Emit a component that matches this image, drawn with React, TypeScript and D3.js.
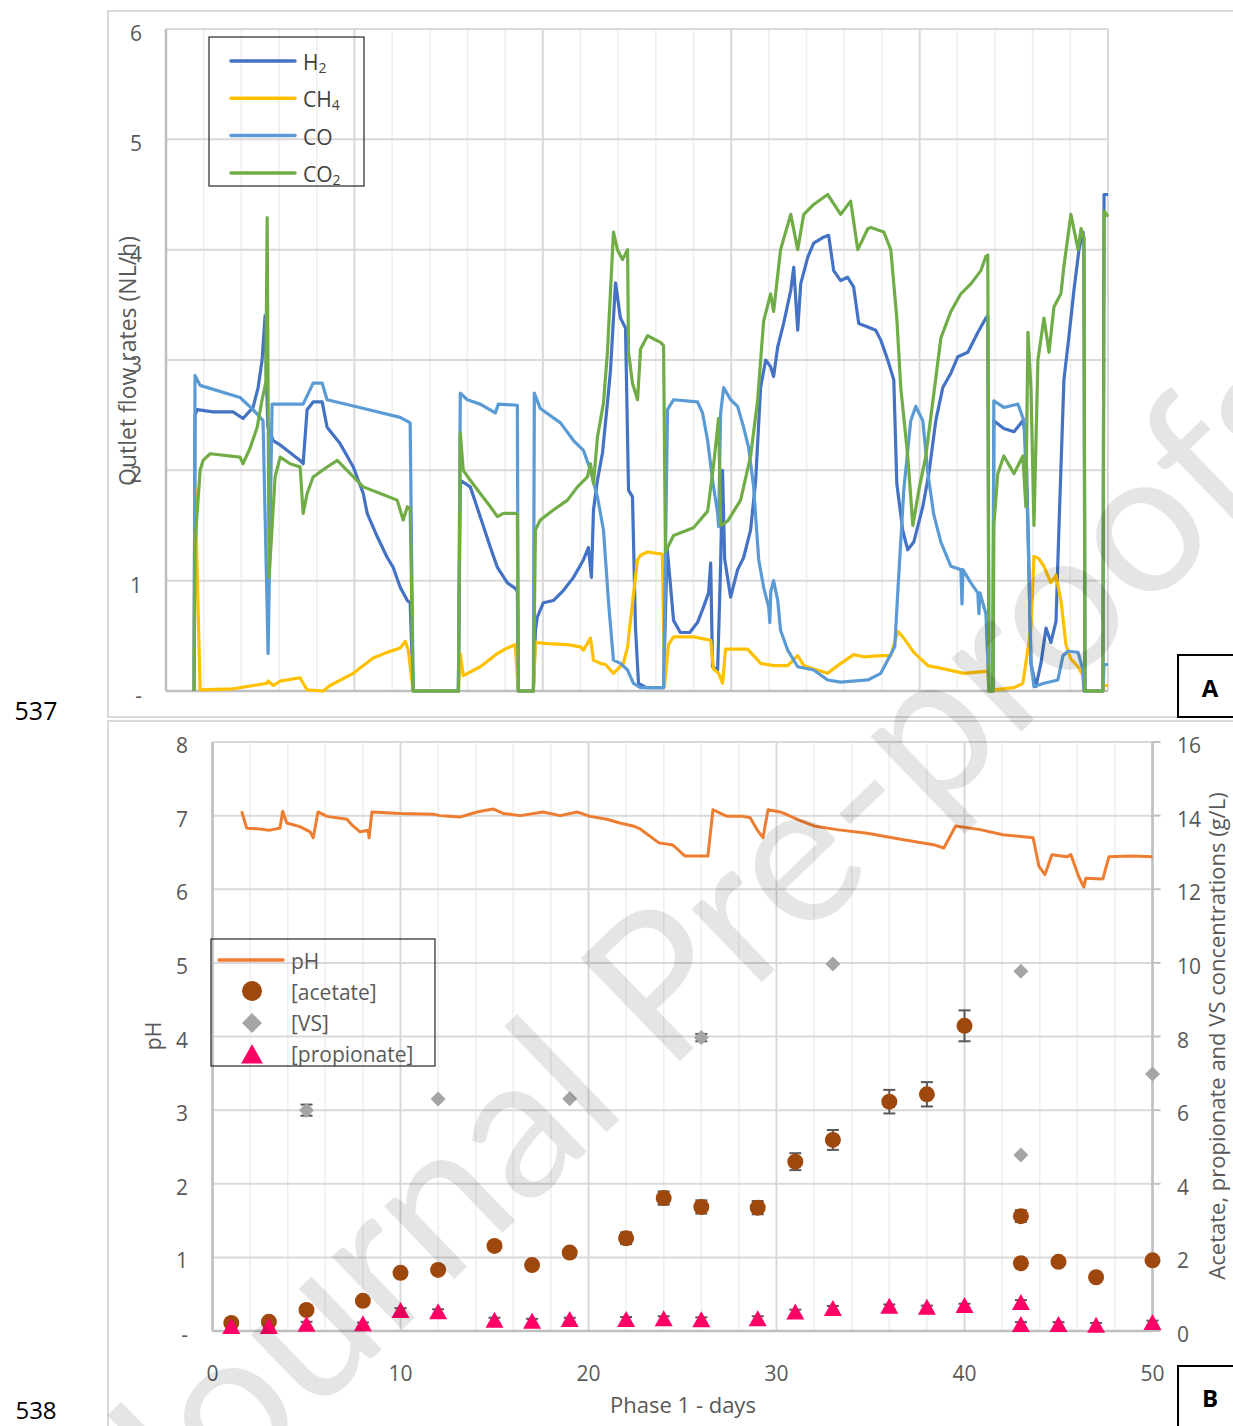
import React from 'react';
import * as d3 from 'd3';

type Pt = [number, number];

// ---------- Panel A : outlet flow rates (NL/h) vs day ----------
const h2Data: Pt[] = [[1.49,0],[1.54,2.5],[1.65,2.55],[2.5,2.53],[3.56,2.53],[4.09,2.47],[4.62,2.57],[4.89,2.75],[5.1,3.0],[5.26,3.4],[5.4,2.4],[5.69,2.27],[6.06,2.23],[7.12,2.09],[7.28,2.06],[7.49,2.55],[7.81,2.62],[8.29,2.62],[8.55,2.39],[9.25,2.24],[9.94,2.03],[10.47,1.79],[10.68,1.61],[11.21,1.4],[11.74,1.21],[12.06,1.12],[12.43,0.94],[12.81,0.82],[12.96,0.8],[13.12,0],[15.52,0],[15.62,1.91],[16.15,1.85],[16.68,1.58],[17.22,1.3],[17.59,1.12],[18.12,0.98],[18.54,0.93],[18.65,0.9],[18.7,0],[19.5,0],[19.61,0.55],[19.71,0.67],[20.03,0.8],[20.56,0.82],[21.09,0.91],[21.63,1.03],[22.16,1.19],[22.42,1.3],[22.58,1.03],[22.69,1.64],[22.9,1.91],[23.17,2.16],[23.43,2.61],[23.59,2.9],[23.86,3.7],[24.12,3.38],[24.39,3.29],[24.55,1.82],[24.76,1.76],[24.92,0.57],[25.08,0.07],[25.5,0.03],[26.41,0.03],[26.6,1.3],[26.94,0.64],[27.3,0.53],[27.8,0.53],[28.21,0.62],[28.53,0.76],[28.8,0.89],[28.91,1.16],[29.01,0.22],[29.28,0.19],[29.44,1.16],[29.54,2.0],[29.65,1.2],[29.97,0.85],[30.34,1.1],[30.66,1.21],[31.03,1.46],[31.3,1.91],[31.56,2.75],[31.83,3.0],[32.09,2.94],[32.25,2.85],[32.47,3.12],[32.78,3.33],[33.16,3.63],[33.32,3.84],[33.53,3.27],[33.69,3.69],[34.06,3.93],[34.38,4.06],[34.86,4.11],[35.17,4.13],[35.44,3.81],[35.81,3.72],[36.18,3.75],[36.5,3.66],[36.77,3.33],[37.25,3.3],[37.67,3.27],[37.94,3.18],[38.31,3.0],[38.63,2.82],[38.79,1.88],[39.11,1.45],[39.37,1.28],[39.69,1.35],[40.17,1.67],[40.49,1.97],[40.86,2.45],[41.23,2.75],[41.66,2.88],[42.03,3.03],[42.56,3.07],[43.09,3.25],[43.52,3.38],[43.62,3.4],[43.68,0],[43.89,0],[43.94,2.45],[44.47,2.38],[45.01,2.35],[45.48,2.45],[45.64,2.3],[45.75,1.5],[45.91,0.25],[46.17,0.04],[46.44,0.25],[46.71,0.57],[46.97,0.44],[47.24,0.63],[47.4,1.5],[47.66,2.82],[47.93,3.22],[48.19,3.63],[48.46,4.0],[48.67,4.16],[48.72,4.1],[48.78,0],[49.73,0],[49.79,4.5],[50,4.5]];

const ch4Data: Pt[] = [[1.49,0],[1.54,1.88],[1.81,0.01],[3.56,0.02],[5.37,0.07],[5.42,0.09],[5.69,0.05],[6.06,0.09],[7.12,0.12],[7.28,0.07],[7.49,0.01],[8.34,0],[8.71,0.05],[9.94,0.16],[11.0,0.3],[11.74,0.35],[12.43,0.39],[12.7,0.45],[12.86,0.37],[13.12,0],[15.52,0],[15.62,0.34],[15.78,0.14],[16.68,0.22],[17.59,0.34],[18.12,0.39],[18.54,0.42],[18.7,0],[19.5,0],[19.61,0.44],[20.24,0.43],[21.31,0.42],[22.0,0.4],[22.16,0.37],[22.53,0.48],[22.69,0.28],[23.06,0.25],[23.33,0.24],[23.75,0.16],[24.28,0.25],[24.5,0.4],[24.76,0.8],[25.03,1.19],[25.19,1.23],[25.56,1.26],[26.35,1.24],[26.46,0.04],[26.67,0.42],[26.94,0.49],[28.0,0.49],[28.91,0.46],[29.06,0.2],[29.33,0.16],[29.54,0.07],[29.7,0.38],[30.13,0.38],[30.87,0.38],[31.19,0.32],[31.56,0.25],[32.25,0.23],[33.0,0.23],[33.53,0.32],[33.85,0.23],[34.38,0.2],[35.12,0.16],[35.65,0.23],[36.5,0.33],[37.04,0.31],[37.94,0.32],[38.47,0.32],[38.84,0.54],[39.16,0.48],[39.69,0.35],[40.44,0.23],[41.29,0.2],[42.35,0.16],[43.62,0.18],[43.68,0],[43.89,0],[43.94,0.01],[45.01,0.03],[45.48,0.07],[45.91,0.57],[46.07,1.22],[46.33,1.2],[46.6,1.13],[46.97,0.98],[47.24,1.05],[47.5,0.82],[47.77,0.42],[48.03,0.29],[48.41,0.22],[48.67,0.14],[48.72,0],[49.73,0],[49.79,0.05],[50,0.05]];

const coData: Pt[] = [[1.49,0],[1.54,2.86],[1.81,2.77],[3.93,2.66],[4.62,2.55],[5.15,2.45],[5.42,0.34],[5.63,2.6],[7.28,2.6],[7.81,2.79],[8.29,2.79],[8.55,2.64],[10.5,2.56],[12.43,2.48],[12.96,2.43],[13.12,0],[15.52,0],[15.62,2.7],[15.99,2.64],[16.68,2.6],[17.48,2.52],[17.64,2.6],[18.65,2.59],[18.7,0],[19.5,0],[19.55,2.7],[19.87,2.56],[20.94,2.43],[21.63,2.27],[22.16,2.18],[22.53,2.0],[22.9,1.76],[23.22,1.46],[23.49,0.8],[23.75,0.28],[24.12,0.25],[24.5,0.19],[24.81,0.07],[25.19,0.03],[26.41,0.03],[26.62,2.55],[26.94,2.64],[28.21,2.62],[28.48,2.52],[28.75,2.27],[29.01,1.91],[29.28,1.61],[29.33,1.49],[29.44,2.52],[29.6,2.75],[29.97,2.64],[30.34,2.58],[30.66,2.39],[30.92,2.21],[31.19,1.85],[31.46,1.19],[31.72,0.94],[31.99,0.76],[32.05,0.62],[32.1,0.9],[32.25,1.0],[32.47,0.82],[32.62,0.55],[33.0,0.37],[33.53,0.22],[34.38,0.19],[35.12,0.1],[35.81,0.08],[37.25,0.1],[37.94,0.16],[38.68,0.4],[38.84,0.89],[39.16,1.82],[39.53,2.45],[39.8,2.58],[40.17,2.45],[40.44,1.97],[40.75,1.6],[41.13,1.35],[41.66,1.13],[42.19,1.1],[42.25,0.79],[42.3,1.1],[42.72,0.98],[43.09,0.89],[43.15,0.7],[43.2,0.89],[43.52,0.7],[43.68,0],[43.89,0],[43.94,2.63],[44.47,2.57],[45.22,2.6],[45.54,2.45],[45.75,1.5],[45.91,0.25],[46.07,0.04],[46.6,0.07],[47.34,0.1],[47.61,0.32],[47.87,0.36],[48.41,0.35],[48.67,0.19],[48.72,0],[49.73,0],[49.79,0.24],[50,0.24]];

const co2Data: Pt[] = [[1.49,0],[1.54,1.34],[1.81,2.0],[1.97,2.09],[2.34,2.15],[3.93,2.12],[4.09,2.06],[4.46,2.2],[4.84,2.39],[5.1,2.64],[5.3,2.8],[5.37,4.29],[5.47,1.03],[5.79,1.94],[6.06,2.12],[6.59,2.06],[7.12,2.03],[7.28,1.61],[7.49,1.79],[7.81,1.94],[8.55,2.03],[9.09,2.09],[9.78,1.97],[10.47,1.85],[11.37,1.79],[12.27,1.73],[12.59,1.55],[12.81,1.67],[12.96,1.65],[13.12,0],[15.52,0],[15.62,2.34],[15.78,2.0],[16.15,1.91],[16.68,1.79],[17.22,1.67],[17.59,1.58],[17.91,1.61],[18.54,1.61],[18.65,1.6],[18.7,0],[19.5,0],[19.61,1.46],[19.87,1.55],[20.56,1.64],[21.31,1.73],[21.84,1.85],[22.37,1.94],[22.53,2.06],[22.69,1.88],[22.9,2.3],[23.22,2.61],[23.43,3.07],[23.75,4.16],[23.96,4.0],[24.23,3.91],[24.5,4.0],[24.55,3.07],[24.76,2.79],[25.03,2.64],[25.19,3.1],[25.56,3.22],[26.25,3.16],[26.41,3.13],[26.51,1.26],[26.94,1.41],[28.0,1.48],[28.75,1.63],[29.06,2.04],[29.33,2.47],[29.44,1.5],[29.81,1.54],[30.5,1.73],[31.03,2.13],[31.4,2.63],[31.72,3.35],[32.09,3.6],[32.25,3.44],[32.62,4.0],[33.16,4.32],[33.53,4.0],[33.85,4.32],[34.38,4.41],[35.12,4.5],[35.81,4.32],[36.34,4.44],[36.72,4.0],[37.25,4.19],[37.41,4.2],[38.1,4.16],[38.47,4.0],[38.79,3.38],[39.0,2.75],[39.37,2.13],[39.64,1.5],[39.96,1.82],[40.33,2.13],[40.75,2.69],[41.13,3.2],[41.66,3.44],[42.19,3.6],[42.72,3.69],[43.25,3.81],[43.52,3.94],[43.62,3.95],[43.68,0],[43.89,0],[43.94,1.5],[44.15,1.97],[44.47,2.13],[45.01,1.97],[45.48,2.13],[45.64,1.67],[45.75,3.25],[45.91,2.75],[46.07,1.5],[46.28,3.0],[46.6,3.38],[46.87,3.07],[47.13,3.48],[47.5,3.6],[47.66,3.85],[48.03,4.32],[48.41,4.0],[48.57,4.19],[48.72,4.1],[48.78,0],[49.73,0],[49.79,4.35],[50,4.3]];

const topYTicks = [0, 1, 2, 3, 4, 5, 6];
const topYLabels = ['-', '1', '2', '3', '4', '5', '6'];

// ---------- Panel B : pH and concentrations ----------
const pHData: Pt[] = [[1.55,7.06],[1.82,6.83],[2.5,6.82],[3.0,6.8],[3.59,6.83],[3.73,7.06],[3.95,6.9],[4.65,6.85],[5.19,6.78],[5.36,6.7],[5.61,7.05],[6.09,6.99],[7.15,6.95],[7.47,6.86],[7.85,6.78],[8.28,6.8],[8.33,6.7],[8.48,7.05],[9.97,7.03],[11.74,7.02],[12.1,7.0],[12.63,6.99],[13.16,6.98],[14.07,7.05],[14.92,7.09],[15.46,7.03],[16.36,7.0],[17.59,7.05],[18.49,7.0],[19.39,7.05],[20.08,6.99],[20.98,6.95],[21.67,6.9],[22.37,6.86],[22.74,6.82],[23.11,6.75],[23.75,6.63],[24.49,6.6],[24.75,6.54],[25.13,6.45],[25.56,6.45],[26.35,6.45],[26.62,7.08],[27.37,6.99],[28.22,6.99],[28.6,6.97],[28.96,6.81],[29.28,6.7],[29.55,7.08],[30.19,7.05],[30.4,7.03],[31.2,6.94],[31.99,6.86],[33.21,6.81],[34.82,6.76],[36.84,6.67],[38.43,6.6],[38.9,6.56],[39.53,6.86],[40.83,6.81],[42.05,6.74],[43.65,6.7],[43.96,6.31],[44.28,6.2],[44.65,6.47],[45.45,6.44],[45.66,6.47],[46.08,6.17],[46.35,6.03],[46.45,6.15],[47.36,6.14],[47.68,6.44],[48.9,6.45],[50,6.44]];

const sampleDays = [1, 3, 5, 8, 10, 12, 15, 17, 19, 22, 24, 26, 29, 31, 33, 36, 38, 40, 43, 43, 45, 47, 50];
const acetate = [0.22, 0.25, 0.57, 0.82, 1.58, 1.66, 2.31, 1.79, 2.13, 2.52, 3.61, 3.37, 3.35, 4.6, 5.19, 6.23, 6.43, 8.29, 3.12, 1.84, 1.88, 1.46, 1.92];
const acetateErr = [0.05, 0.05, 0.05, 0.05, 0.08, 0.08, 0.08, 0.05, 0.08, 0.16, 0.18, 0.18, 0.18, 0.23, 0.27, 0.32, 0.33, 0.42, 0.16, 0.05, 0.05, 0.05, 0.05];
const propionate = [0.11, 0.11, 0.17, 0.18, 0.54, 0.51, 0.28, 0.25, 0.3, 0.3, 0.32, 0.29, 0.32, 0.5, 0.6, 0.66, 0.63, 0.68, 0.76, 0.16, 0.16, 0.14, 0.22];
const propionateErr = [0.05, 0.05, 0.08, 0.05, 0.08, 0.08, 0.08, 0.08, 0.06, 0.08, 0.08, 0.08, 0.08, 0.08, 0.08, 0.06, 0.06, 0.06, 0.08, 0.08, 0.08, 0.08, 0.06];
const vsDays = [5, 12, 19, 26, 33, 43, 43, 50];
const vs = [6.0, 6.3, 6.31, 7.97, 9.97, 9.77, 4.78, 6.98];
const vsErr = [0.15, 0, 0, 0.1, 0, 0, 0, 0];

const pHTicks = [0, 1, 2, 3, 4, 5, 6, 7, 8];
const pHLabels = ['-', '1', '2', '3', '4', '5', '6', '7', '8'];
const concTicks = [0, 2, 4, 6, 8, 10, 12, 14, 16];
const dayTicks = [0, 10, 20, 30, 40, 50];

const FONT = "'Open Sans', 'Noto Sans', sans-serif";
const WM_FONT = "Lato, 'Open Sans', sans-serif";
const GRID = '#D9D9D9';
const MINOR = '#EEEEEE';
const LABEL = '#595959';

const C_H2 = '#4472C4';
const C_CH4 = '#FFC000';
const C_CO = '#5B9BD5';
const C_CO2 = '#70AD47';
const C_PH = '#ED7D31';
const C_AC = '#9E480E';
const C_VS = '#A5A5A5';
const C_PR = '#FF0066';

const diamond = (s: number) => `M0,${-s}L${s},0L0,${s}L${-s},0Z`;
const triangle = `M0,-9L9,7L-9,7Z`;

export default function App() {
  const xTop = d3.scaleLinear().domain([0, 50]).range([166, 1108]);
  const yTop = d3.scaleLinear().domain([0, 6]).range([691, 29]);
  const lineTop = d3.line<Pt>().x((d) => xTop(d[0])).y((d) => yTop(d[1]));

  const xBot = d3.scaleLinear().domain([0, 50]).range([212.5, 1152.5]);
  const yPH = d3.scaleLinear().domain([0, 8]).range([1331, 742]);
  const yC = d3.scaleLinear().domain([0, 16]).range([1331, 742]);
  const linePH = d3.line<Pt>().x((d) => xBot(d[0])).y((d) => yPH(d[1]));

  const minorDays = d3.range(0, 51, 2);

  const errBar = (x: number, v: number, e: number, key: string) => {
    if (e <= 0) return null;
    const y1 = yC(v + e), y2 = yC(v - e);
    return (
      <g key={key} stroke="#595959" strokeWidth={2}>
        <line x1={x} x2={x} y1={y1} y2={y2} />
        <line x1={x - 6} x2={x + 6} y1={y1} y2={y1} />
        <line x1={x - 6} x2={x + 6} y1={y2} y2={y2} />
      </g>
    );
  };

  const topSeries: [Pt[], string][] = [
    [h2Data, C_H2],
    [ch4Data, C_CH4],
    [coData, C_CO],
    [co2Data, C_CO2],
  ];

  const legendTop = [
    { c: C_H2, base: 'H', sub: '2' },
    { c: C_CH4, base: 'CH', sub: '4' },
    { c: C_CO, base: 'CO', sub: '' },
    { c: C_CO2, base: 'CO', sub: '2' },
  ];

  return (
    <svg
      width={1233}
      height={1426}
      style={{ position: 'absolute', left: 0, top: 0, background: '#fff' }}
      fontFamily={FONT}
    >
      <rect x={0} y={0} width={1233} height={1426} fill="#fff" />

      {/* ============ Panel A ============ */}
      <rect x={108} y={11} width={1140} height={706} fill="none" stroke={GRID} strokeWidth={2} />
      {minorDays.map((d) => (
        <line key={'tv' + d} x1={xTop(d)} x2={xTop(d)} y1={yTop(6)} y2={yTop(0)}
          stroke={d % 10 === 0 ? GRID : MINOR} strokeWidth={d % 10 === 0 ? 2 : 1.5} />
      ))}
      {topYTicks.map((t) => (
        <line key={'th' + t} x1={xTop(0)} x2={xTop(50)} y1={yTop(t)} y2={yTop(t)}
          stroke={t === 0 ? '#BFBFBF' : GRID} strokeWidth={t === 0 ? 2.5 : 2} />
      ))}
      <line x1={xTop(0)} x2={xTop(0)} y1={yTop(6)} y2={yTop(0)} stroke="#BFBFBF" strokeWidth={2.5} />
      {topYTicks.map((t, i) => (
        <text key={'tl' + t} x={142} y={yTop(t) + 4} textAnchor="end" dominantBaseline="central"
          fontSize={21} fill={LABEL}>{topYLabels[i]}</text>
      ))}
      <text transform={`translate(127,361) rotate(-90)`} textAnchor="middle" dominantBaseline="central"
        fontSize={23} fill={LABEL}>Outlet flow rates (NL/h)</text>

      {topSeries.map(([data, c], i) => (
        <path key={'ts' + i} d={lineTop(data) || ''} fill="none" stroke={c} strokeWidth={3.2}
          strokeLinejoin="round" />
      ))}

      {/* legend A */}
      <rect x={209} y={37} width={155} height={149} fill="none" stroke="#262626" strokeWidth={1.2} />
      {legendTop.map((l, i) => {
        const y = 61 + i * 37.3;
        return (
          <g key={'lt' + i}>
            <line x1={231} x2={295} y1={y} y2={y} stroke={l.c} strokeWidth={3.5} strokeLinecap="round" />
            <text x={303} y={y + 1} dominantBaseline="central" fontSize={21} fill="#404040">
              {l.base}
              {l.sub && <tspan fontSize={14} dy={5}>{l.sub}</tspan>}
            </text>
          </g>
        );
      })}

      <text x={36} y={710} textAnchor="middle" dominantBaseline="central" fontSize={25} fill="#000">537</text>
      <rect x={1178} y={655} width={70} height={62} fill="#fff" stroke="#000" strokeWidth={2} />
      <text x={1210} y={687} textAnchor="middle" dominantBaseline="central" fontSize={24} fontWeight="bold" fill="#000">A</text>

      {/* ============ Panel B ============ */}
      <rect x={108} y={721} width={1140} height={720} fill="none" stroke={GRID} strokeWidth={2} />
      {minorDays.map((d) => (
        <line key={'bv' + d} x1={xBot(d)} x2={xBot(d)} y1={yPH(8)} y2={yPH(0)}
          stroke={d % 10 === 0 ? GRID : MINOR} strokeWidth={d % 10 === 0 ? 2 : 1.5} />
      ))}
      {pHTicks.map((t) => (
        <line key={'bh' + t} x1={xBot(0)} x2={xBot(50)} y1={yPH(t)} y2={yPH(t)}
          stroke={t === 0 ? '#BFBFBF' : GRID} strokeWidth={t === 0 ? 2.5 : 2} />
      ))}
      <line x1={xBot(0)} x2={xBot(0)} y1={yPH(8)} y2={yPH(0)} stroke="#BFBFBF" strokeWidth={2.5} />
      <line x1={xBot(50)} x2={xBot(50)} y1={yPH(8)} y2={yPH(0)} stroke="#BFBFBF" strokeWidth={2.5} />
      {concTicks.map((t) => (
        <line key={'rt' + t} x1={xBot(50)} x2={xBot(50) + 8} y1={yC(t)} y2={yC(t)} stroke="#BFBFBF" strokeWidth={2} />
      ))}
      {pHTicks.map((t, i) => (
        <text key={'bl' + t} x={188} y={yPH(t) + 3} textAnchor="end" dominantBaseline="central"
          fontSize={21} fill={LABEL}>{pHLabels[i]}</text>
      ))}
      {concTicks.map((t) => (
        <text key={'br' + t} x={1177} y={yC(t) + 3} textAnchor="start" dominantBaseline="central"
          fontSize={21} fill={LABEL}>{t}</text>
      ))}
      {dayTicks.map((t) => (
        <text key={'bx' + t} x={xBot(t)} y={1373} textAnchor="middle" dominantBaseline="central"
          fontSize={21} fill={LABEL}>{t}</text>
      ))}
      <text x={683} y={1404} textAnchor="middle" dominantBaseline="central" fontSize={22} fill={LABEL}>Phase 1 - days</text>
      <text transform={`translate(153,1036) rotate(-90)`} textAnchor="middle" dominantBaseline="central"
        fontSize={21} fill={LABEL}>pH</text>
      <text transform={`translate(1216,1036) rotate(-90)`} textAnchor="middle" dominantBaseline="central"
        fontSize={22} fill={LABEL}>Acetate, propionate and VS concentrations (g/L)</text>

      <path d={linePH(pHData) || ''} fill="none" stroke={C_PH} strokeWidth={3} strokeLinejoin="round" />

      {/* error bars */}
      {sampleDays.map((d, i) => errBar(xBot(d), acetate[i], acetateErr[i], 'ea' + i))}
      {vsDays.map((d, i) => errBar(xBot(d), vs[i], vsErr[i], 'ev' + i))}
      {sampleDays.map((d, i) => errBar(xBot(d), propionate[i], propionateErr[i], 'ep' + i))}

      {sampleDays.map((d, i) => (
        <circle key={'ac' + i} cx={xBot(d)} cy={yC(acetate[i])} r={8} fill={C_AC} />
      ))}
      {vsDays.map((d, i) => (
        <path key={'vs' + i} transform={`translate(${xBot(d)},${yC(vs[i])})`} d={diamond(7.5)} fill={C_VS} />
      ))}
      {sampleDays.map((d, i) => (
        <path key={'pr' + i} transform={`translate(${xBot(d)},${yC(propionate[i])})`} d={triangle} fill={C_PR} />
      ))}

      {/* legend B */}
      <rect x={211} y={939} width={224} height={127} fill="none" stroke="#262626" strokeWidth={1.2} />
      <line x1={219} x2={283} y1={960} y2={960} stroke={C_PH} strokeWidth={3.5} strokeLinecap="round" />
      <text x={291} y={961} dominantBaseline="central" fontSize={21} fill={LABEL}>pH</text>
      <circle cx={252} cy={991} r={10} fill={C_AC} />
      <text x={291} y={992} dominantBaseline="central" fontSize={21} fill={LABEL}>[acetate]</text>
      <path transform="translate(252,1023)" d={diamond(10)} fill={C_VS} />
      <text x={291} y={1023} dominantBaseline="central" fontSize={21} fill={LABEL}>[VS]</text>
      <path transform="translate(252,1055) scale(1.2)" d={triangle} fill={C_PR} />
      <text x={291} y={1054} dominantBaseline="central" fontSize={21} fill={LABEL}>[propionate]</text>

      <text x={36} y={1409} textAnchor="middle" dominantBaseline="central" fontSize={24} fill="#000">538</text>
      <rect x={1178} y={1366} width={70} height={70} fill="#fff" stroke="#000" strokeWidth={2} />
      <text x={1210} y={1397} textAnchor="middle" dominantBaseline="central" fontSize={24} fontWeight="bold" fill="#000">B</text>

      {/* watermark */}
      <text transform="translate(700,935) rotate(-44)" textAnchor="middle" dominantBaseline="central"
        fontFamily={WM_FONT} fontSize={200} fill="#000" fillOpacity={0.1}>Journal Pre-proofs</text>
    </svg>
  );
}
